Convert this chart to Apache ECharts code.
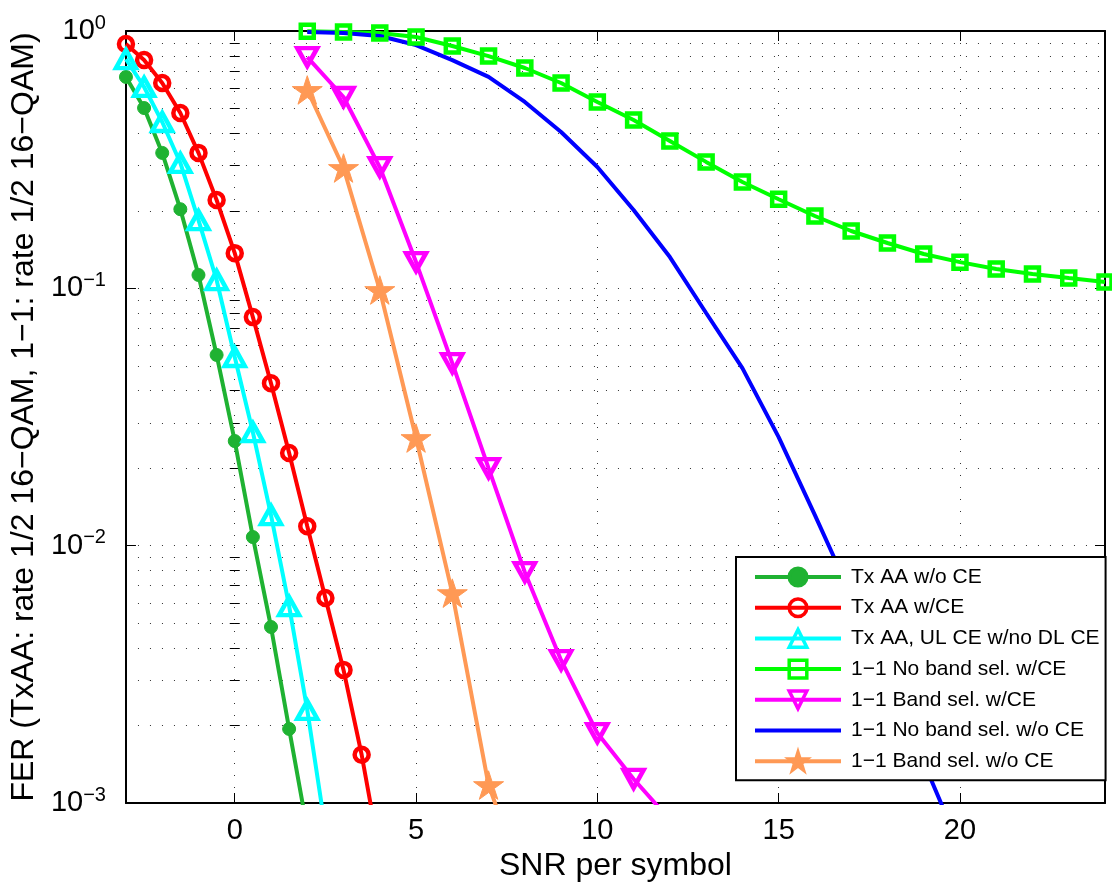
<!DOCTYPE html>
<html><head><meta charset="utf-8">
<script src="https://cdn.jsdelivr.net/npm/echarts@6/dist/echarts.min.js"></script>
<style>html,body{margin:0;padding:0;background:#fff}#c{width:1112px;height:888px}</style>
</head><body><div id="c"></div>
<script>
// ---- data ----
const seriesNames = ['Tx AA w/o CE','Tx AA w/CE','Tx AA, UL CE w/no DL CE','1\u22121 No band sel. w/CE','1\u22121 Band sel. w/CE','1\u22121 No band sel. w/o CE','1\u22121 Band sel. w/o CE'];
const xTxAAwoCE = [-3,-2.5,-2,-1.5,-1,-0.5,0,0.5,1,1.5,2];
const ferTxAAwoCE = [0.663,0.502,0.336,0.203,0.1127,0.0551,0.0255,0.0108,0.00483,0.00194,0.00079];
const xTxAAwCE = [-3,-2.5,-2,-1.5,-1,-0.5,0,0.5,1,1.5,2,2.5,3,3.5,4];
const ferTxAAwCE = [0.890,0.771,0.628,0.480,0.336,0.2204,0.137,0.0773,0.0428,0.0229,0.0119,0.00626,0.00329,0.00154,0.00063];
const xTxAAul = [-3,-2.5,-2,-1.5,-1,-0.5,0,0.5,1,1.5,2,2.5];
const ferTxAAul = [0.778,0.606,0.443,0.307,0.184,0.1077,0.0541,0.0276,0.01315,0.00582,0.0023,0.00079];
const xNoBandCE = [2,3,4,5,6,7,8,9,10,11,12,13,14,15,16,17,18,19,20,21,22,23,24];
const ferNoBandCE = [0.998,0.991,0.982,0.948,0.874,0.799,0.718,0.628,0.530,0.451,0.374,0.310,0.259,0.222,0.191,0.167,0.150,0.136,0.1264,0.1188,0.1137,0.1096,0.1058];
const xBandCE = [2,3,4,5,6,7,8,9,10,11,12];
const ferBandCE = [0.792,0.554,0.296,0.1265,0.0512,0.0200,0.00789,0.00359,0.00187,0.00124,0.00086];
const xNoBandNoCE = [2,3,4,5,6,7,8,9,10,11,12,13,14,15,16,17,18,19,20];
const ferNoBandNoCE = [0.99,0.982,0.956,0.882,0.771,0.663,0.530,0.405,0.296,0.2015,0.1323,0.0802,0.0490,0.0264,0.01315,0.00643,0.00309,0.00144,0.00067];
const xBandNoCE = [2,3,4,5,6,7,8];
const ferBandNoCE = [0.590,0.2935,0.0985,0.0262,0.00654,0.001174,0.00048];
const xTickValues = [0,5,10,15,20];
const yTickValues = [0.001,0.01,0.1,1];
const yMinorMultipliers = [2,3,4,5,6,7,8,9];

// ---- styling helpers ----
const FONT = '"Liberation Sans", Arial, Helvetica, sans-serif';
const yMinorValues = [];
yTickValues.slice(0,-1).forEach(d => yMinorMultipliers.forEach(m => yMinorValues.push(+(d*m).toPrecision(3))));
const STAR = 'path://M0,-10 L2.245,-3.09 L9.51,-3.09 L3.63,1.18 L5.88,8.09 L0,3.82 L-5.88,8.09 L-3.63,1.18 L-9.51,-3.09 L-2.245,-3.09 Z';
const dotted = {color:'#333', width:1, type:[1,11]};

function pairs(xs, ys){ return xs.map((x,i)=>[x, ys[i]]); }
function mk(name, xs, ys, color, symbol, size, mode, bw, rotate){
  let itemStyle;
  if (mode === 'filled') itemStyle = {color, borderColor:color, borderWidth:bw};
  else if (mode === 'none') itemStyle = {color:'rgba(0,0,0,0)', borderColor:'rgba(0,0,0,0)', borderWidth:0};
  else itemStyle = {color:'rgba(255,255,255,0)', borderColor:color, borderWidth:bw};
  return {
    name, type:'line', data: pairs(xs, ys), xAxisIndex:0, yAxisIndex:0,
    color, symbol, symbolSize:size, symbolRotate: rotate||0, symbolKeepAspect:true,
    showSymbol: mode !== 'none', clip:true,
    lineStyle:{color, width:4},
    itemStyle,
    emphasis:{disabled:true}, animation:false, z: 3
  };
}

const chart = echarts.init(document.getElementById('c'), null, {renderer:'canvas'});
const yLogBase = {type:'log', logBase:10, min:0.001, max:1};
const option = {
  backgroundColor:'#fff',
  animation:false,
  textStyle:{fontFamily:FONT},
  grid:{left:123, right:7, top:31, bottom:85, containLabel:false},
  legend:{
    orient:'vertical', left:736, top:557,
    backgroundColor:'#fff', borderColor:'#000', borderWidth:2, borderRadius:0,
    padding:[9,6,8,17], itemGap:8.7, itemWidth:86, itemHeight:22,
    lineStyle:{width:4},
    itemStyle:{borderWidth:3.5},
    textStyle:{fontSize:21, color:'#000', fontFamily:FONT, lineHeight:22, padding:[0,0,0,5]},
    data: seriesNames, selectedMode:false, z:10
  },
  xAxis:[
    {type:'value', min:-3, max:24, position:'bottom',
     name:'SNR per symbol', nameLocation:'middle', nameGap:34,
     nameTextStyle:{fontSize:32, color:'#000', fontFamily:FONT},
     axisLine:{show:true, onZero:false, lineStyle:{color:'#000', width:2}},
     axisTick:{show:true, inside:true, length:10, customValues:xTickValues, lineStyle:{color:'#000', width:1}},
     axisLabel:{show:true, customValues:xTickValues, fontSize:29, color:'#000', margin:13, fontFamily:FONT},
     splitLine:{show:true, lineStyle:dotted}},
    {type:'value', min:-3, max:24, position:'top',
     axisLine:{show:true, onZero:false, lineStyle:{color:'#000', width:2}},
     axisTick:{show:true, inside:true, length:10, customValues:xTickValues, lineStyle:{color:'#000', width:1}},
     axisLabel:{show:false}, splitLine:{show:false}}
  ],
  yAxis:[
    Object.assign({}, yLogBase, {position:'left',
     name:'FER (TxAA: rate 1/2 16\u2212QAM, 1\u22121: rate 1/2 16\u2212QAM)', nameLocation:'middle', nameGap:78,
     nameTextStyle:{fontSize:32, color:'#000', fontFamily:FONT},
     axisLine:{show:true, onZero:false, lineStyle:{color:'#000', width:2}},
     axisTick:{show:true, inside:true, length:10, customValues:yTickValues, lineStyle:{color:'#000', width:1}},
     axisLabel:{show:true, customValues:yTickValues, margin:20,
       formatter:function(v){ const e = Math.round(Math.log10(v)); return '{b|10}{s|' + (e<0 ? '\u2212'+(-e) : e) + '}'; },
       rich:{b:{fontSize:29, color:'#000', fontFamily:FONT, lineHeight:34},
             s:{fontSize:20, color:'#000', fontFamily:FONT, padding:[0,0,16,0]}}},
     splitLine:{show:true, lineStyle:dotted}}),
    Object.assign({}, yLogBase, {position:'left',
     axisLine:{show:false},
     axisTick:{show:true, inside:true, length:5, customValues:yMinorValues, lineStyle:{color:'#000', width:1}},
     axisLabel:{show:false}, splitLine:{show:true, lineStyle:dotted}}),
    Object.assign({}, yLogBase, {position:'right',
     axisLine:{show:true, onZero:false, lineStyle:{color:'#000', width:2}},
     axisTick:{show:true, inside:true, length:10, customValues:yTickValues, lineStyle:{color:'#000', width:1}},
     axisLabel:{show:false}, splitLine:{show:false}}),
    Object.assign({}, yLogBase, {position:'right',
     axisLine:{show:false},
     axisTick:{show:true, inside:true, length:5, customValues:yMinorValues, lineStyle:{color:'#000', width:1}},
     axisLabel:{show:false}, splitLine:{show:false}})
  ],
  series:[
    mk(seriesNames[0], xTxAAwoCE, ferTxAAwoCE, '#1FB232', 'circle', 13, 'filled', 1),
    mk(seriesNames[1], xTxAAwCE, ferTxAAwCE, '#FF0000', 'circle', 14, 'hollow', 4.5),
    mk(seriesNames[2], xTxAAul, ferTxAAul, '#00FFFF', 'triangle', [20,18], 'hollow', 4.5),
    mk(seriesNames[3], xNoBandCE, ferNoBandCE, '#00FF00', 'rect', 13, 'hollow', 4.5),
    mk(seriesNames[4], xBandCE, ferBandCE, '#FF00FF', 'triangle', [20,18], 'hollow', 4.5, 180),
    mk(seriesNames[5], xNoBandNoCE, ferNoBandNoCE, '#0000FF', 'circle', 0, 'none', 0),
    mk(seriesNames[6], xBandNoCE, ferBandNoCE, '#FF9955', STAR, 30, 'filled', 1)
  ]
};
chart.setOption(option);
</script></body></html>
